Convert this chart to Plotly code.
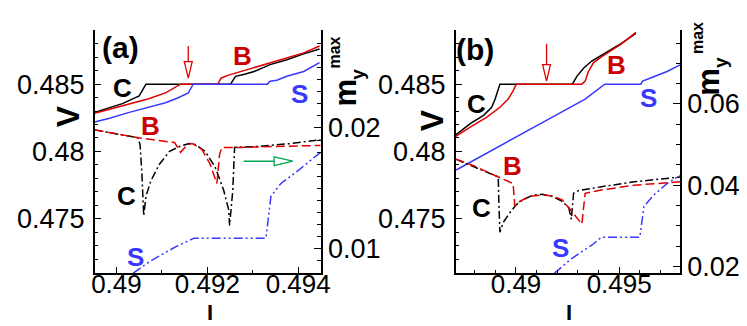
import plotly.graph_objects as go

# ---------------- Panel (a) data ----------------
a_C_V_x = [0.48952, 0.48985, 0.49013, 0.49050, 0.49056, 0.49065, 0.49251, 0.49262, 0.49282, 0.49303, 0.49338, 0.49375, 0.49412, 0.49447]
a_C_V_y = [0.48290, 0.48326, 0.48355, 0.48413, 0.48449, 0.48500, 0.48500, 0.48558, 0.48573, 0.48594, 0.48645, 0.48681, 0.48725, 0.48761]
a_B_V_x = [0.48952, 0.48985, 0.49028, 0.49071, 0.49108, 0.49141, 0.49223, 0.49230, 0.49245, 0.49267, 0.49303, 0.49338, 0.49375, 0.49412, 0.49447]
a_B_V_y = [0.48283, 0.48312, 0.48355, 0.48391, 0.48435, 0.48500, 0.48500, 0.48544, 0.48565, 0.48587, 0.48623, 0.48660, 0.48696, 0.48732, 0.48783]
a_S_V_x = [0.48952, 0.48985, 0.49028, 0.49071, 0.49108, 0.49136, 0.49152, 0.49158, 0.49169, 0.49332, 0.49338, 0.49353, 0.49375, 0.49412, 0.49447]
a_S_V_y = [0.48218, 0.48246, 0.48290, 0.48326, 0.48362, 0.48399, 0.48428, 0.48435, 0.48500, 0.48500, 0.48522, 0.48529, 0.48558, 0.48594, 0.48660]

a_B_m_x = [0.48952, 0.49047, 0.49128, 0.49141, 0.49156, 0.49167, 0.49188, 0.49206, 0.49221, 0.49227, 0.49232, 0.49275, 0.49347, 0.49449]
a_B_m_y = [0.01984, 0.01919, 0.01879, 0.01798, 0.01863, 0.01871, 0.01823, 0.01702, 0.01541, 0.01782, 0.01839, 0.01839, 0.01847, 0.01855]
a_C_m_x = [0.48952, 0.49047, 0.49052, 0.49056, 0.49060, 0.49065, 0.49076, 0.49095, 0.49117, 0.49139, 0.49160, 0.49173, 0.49195, 0.49217, 0.49236, 0.49247, 0.49249, 0.49256, 0.49260, 0.49312, 0.49384, 0.49449]
a_C_m_y = [0.01984, 0.01919, 0.01863, 0.01621, 0.01275, 0.01436, 0.01565, 0.01702, 0.01807, 0.01847, 0.01871, 0.01863, 0.01807, 0.01678, 0.01484, 0.01323, 0.01194, 0.01484, 0.01839, 0.01847, 0.01871, 0.01903]
a_S_m_x = [0.49037, 0.49073, 0.49130, 0.49171, 0.49329, 0.49340, 0.49362, 0.49399, 0.49449]
a_S_m_y = [0.00799, 0.00896, 0.01017, 0.01089, 0.01089, 0.01436, 0.01541, 0.01645, 0.01798]

# ---------------- Panel (b) data ----------------
b_C_V_x = [0.48708, 0.48780, 0.48843, 0.48882, 0.48899, 0.48914, 0.48922, 0.49271, 0.49275, 0.49295, 0.49327, 0.49367, 0.49430, 0.49494, 0.49541, 0.49581]
b_C_V_y = [0.48123, 0.48208, 0.48268, 0.48328, 0.48389, 0.48462, 0.48500, 0.48500, 0.48505, 0.48558, 0.48618, 0.48672, 0.48726, 0.48787, 0.48835, 0.48878]
b_B_V_x = [0.48708, 0.48780, 0.48859, 0.48922, 0.48962, 0.48986, 0.49001, 0.49319, 0.49335, 0.49351, 0.49375, 0.49414, 0.49462, 0.49509, 0.49581]
b_B_V_y = [0.48111, 0.48183, 0.48255, 0.48328, 0.48389, 0.48449, 0.48500, 0.48500, 0.48522, 0.48594, 0.48658, 0.48703, 0.48750, 0.48798, 0.48884]
b_S_V_x = [0.48710, 0.48930, 0.49018, 0.49176, 0.49335, 0.49430, 0.49605, 0.49613, 0.49652, 0.49732, 0.49795]
b_S_V_y = [0.47862, 0.48050, 0.48123, 0.48255, 0.48389, 0.48500, 0.48500, 0.48522, 0.48546, 0.48594, 0.48643]

b_B_m_x = [0.48708, 0.48795, 0.48914, 0.48986, 0.48994, 0.49018, 0.49065, 0.49129, 0.49176, 0.49224, 0.49263, 0.49319, 0.49335, 0.49414, 0.49573, 0.49795]
b_B_m_y = [0.04641, 0.04480, 0.04202, 0.04041, 0.03482, 0.03602, 0.03722, 0.03760, 0.03736, 0.03640, 0.03400, 0.03040, 0.03801, 0.03880, 0.04000, 0.04082]
b_C_m_x = [0.48708, 0.48914, 0.48917, 0.48922, 0.48938, 0.48970, 0.49001, 0.49033, 0.49081, 0.49129, 0.49176, 0.49224, 0.49256, 0.49268, 0.49279, 0.49303, 0.49414, 0.49573, 0.49795]
b_C_m_y = [0.04641, 0.04202, 0.03561, 0.02841, 0.03081, 0.03321, 0.03520, 0.03640, 0.03753, 0.03777, 0.03722, 0.03602, 0.03441, 0.03160, 0.03801, 0.03866, 0.03962, 0.04082, 0.04202]
b_S_m_x = [0.49186, 0.49271, 0.49367, 0.49414, 0.49600, 0.49620, 0.49668, 0.49732, 0.49795]
b_S_m_y = [0.01833, 0.02200, 0.02522, 0.02721, 0.02721, 0.03482, 0.03760, 0.04041, 0.04240]

# ---------------- axes ticks ----------------
a_x_ticks = [0.490, 0.492, 0.494]
a_x_labels = ["0.49", "0.492", "0.494"]
b_x_ticks = [0.490, 0.495]
b_x_labels = ["0.49", "0.495"]
v_ticks = [0.475, 0.480, 0.485]
v_labels = ["0.475", "0.48", "0.485"]
a_m_ticks = [0.01, 0.02]
a_m_labels = ["0.01", "0.02"]
b_m_ticks = [0.02, 0.04, 0.06]
b_m_labels = ["0.02", "0.04", "0.06"]

# arrows (data coordinates)
a_red_arrow = dict(x=0.49158, top=0.48783, base=0.48667, tip=0.48544, hw=0.000087)
b_red_arrow = dict(x=0.49148, top=0.48800, base=0.48645, tip=0.48522, hw=0.00019)
a_green_arrow = dict(y=0.47927, x0=0.49280, base=0.49347, tip=0.49388, hh=0.00033)

RED = "#e00000"
RED_T = "#cc0000"
BLUE = "#3838ff"
BLACK = "#000000"
GREEN = "#00a651"
FONT = "Liberation Sans, Arial, sans-serif"

W, H = 747, 326

fig = go.Figure()


def add(x, y, xa, ya, color, dash="solid"):
    fig.add_trace(go.Scatter(x=x, y=y, mode="lines", xaxis=xa, yaxis=ya,
                             line=dict(color=color, width=1.5, dash=dash),
                             showlegend=False, hoverinfo="skip"))


DASH_B = "9px,4px"
DASH_C = "8px,3px,2px,3px"
DASH_S = "9px,3px,2px,3px,2px,3px"

# panel a
add(a_C_V_x, a_C_V_y, "x", "y", BLACK)
add(a_B_V_x, a_B_V_y, "x", "y", RED)
add(a_S_V_x, a_S_V_y, "x", "y", BLUE)
add(a_C_m_x, a_C_m_y, "x", "y2", BLACK, DASH_C)
add(a_B_m_x, a_B_m_y, "x", "y2", RED, DASH_B)
add(a_S_m_x, a_S_m_y, "x", "y2", BLUE, DASH_S)
# panel b
add(b_C_V_x, b_C_V_y, "x2", "y3", BLACK)
add(b_B_V_x, b_B_V_y, "x2", "y3", RED)
add(b_S_V_x, b_S_V_y, "x2", "y3", BLUE)
add(b_C_m_x, b_C_m_y, "x2", "y4", BLACK, DASH_C)
add(b_B_m_x, b_B_m_y, "x2", "y4", RED, DASH_B)
add(b_S_m_x, b_S_m_y, "x2", "y4", BLUE, DASH_S)

ydom = [(H - 272) / H, (H - 23) / H]
tickfont = dict(family=FONT, size=27, color="black")
xtickfont = dict(family=FONT, size=26, color="black")


def xax(dom, rng, tv, tt, anchor):
    return dict(domain=dom, range=rng, tickmode="array", tickvals=tv, ticktext=tt,
                ticks="inside", ticklen=7, tickwidth=1.2, tickcolor="black",
                showline=True, linecolor="black", linewidth=1.5, showgrid=False,
                zeroline=False, tickfont=xtickfont, anchor=anchor, ticklabelstandoff=-13,
                minor=dict(tickmode="linear", tick0=0.48, dtick=0.001, ticks="inside",
                           ticklen=4, tickcolor="black", showgrid=False))


def yax(rng, tv, tt, anchor, side="left", overlaying=None, mdt=0.001, standoff=3):
    d = dict(domain=ydom, range=rng, tickmode="array", tickvals=tv, ticktext=tt,
             ticks="inside", ticklen=7, tickwidth=1.2, tickcolor="black",
             showline=True, linecolor="black", linewidth=1.5, showgrid=False,
             zeroline=False, tickfont=tickfont, anchor=anchor, side=side,
             ticklabelstandoff=standoff,
             minor=dict(tickmode="linear", tick0=0.0, dtick=mdt, ticks="inside",
                        ticklen=4, tickcolor="black", showgrid=False))
    if overlaying:
        d["overlaying"] = overlaying
    return d


fig.update_layout(
    width=W, height=H, margin=dict(l=0, r=0, t=0, b=0),
    paper_bgcolor="white", plot_bgcolor="rgba(0,0,0,0)",
    xaxis=xax([85 / W, 315 / W], [0.48952, 0.49450], a_x_ticks, a_x_labels, "y"),
    xaxis2=xax([452 / W, 680 / W], [0.48708, 0.49795], b_x_ticks, b_x_labels, "y3"),
    yaxis=yax([0.47094, 0.48899], v_ticks, v_labels, "x"),
    yaxis2=yax([0.00798, 0.02806], a_m_ticks, a_m_labels, "x", "right", "y", standoff=0),
    yaxis3=yax([0.47094, 0.48899], v_ticks, v_labels, "x2"),
    yaxis4=yax([0.0183, 0.0781], b_m_ticks, b_m_labels, "x2", "right", "y3", mdt=0.005, standoff=0),
)


def label(text, px, py, color=BLACK, size=26, angle=0, weight="bold", yanchor="middle"):
    fig.add_annotation(text=text, x=px / W, y=1 - py / H, xref="paper", yref="paper",
                       showarrow=False, textangle=angle, xanchor="center", yanchor=yanchor,
                       borderpad=0,
                       font=dict(family=FONT, size=size, color=color, weight=weight))


# panel labels
label("(a)", 111, 40, size=30)
label("(b)", 472, 43, size=30)
# curve labels a
label("C", 113, 82)
label("B", 235, 49, RED_T)
label("S", 293, 88, BLUE)
label("B", 142, 121, RED_T)
label("C", 117, 193)
label("S", 127, 255, BLUE)
# curve labels b
label("C", 473, 98)
label("B", 615, 58, RED_T)
label("S", 648, 92, BLUE)
label("B", 510, 162, RED_T)
label("C", 478, 205)
label("S", 558, 246, BLUE)
# axis titles
label("V", 58, 111, size=32, angle=-90)
label("V", 428, 115, size=32, angle=-90)
label("I", 202, 326, size=22, yanchor="bottom")
label("I", 567, 326, size=22, yanchor="bottom")
label("m", 340, 87, size=31, angle=-90)
label("y", 352, 68, size=19, angle=-90)
label("max", 329, 46, size=16, angle=-90)
label("m", 709, 76, size=31, angle=-90)
label("y", 721, 56, size=19, angle=-90)
label("max", 697, 31, size=16, angle=-90)


def down_arrow(xa, ya, ar):
    fig.add_shape(type="line", xref=xa, yref=ya, x0=ar["x"], x1=ar["x"], y0=ar["top"], y1=ar["base"],
                  line=dict(color=RED, width=1.3))
    path = (f"M {ar['x'] - ar['hw']},{ar['base']} L {ar['x'] + ar['hw']},{ar['base']} "
            f"L {ar['x']},{ar['tip']} Z")
    fig.add_shape(type="path", xref=xa, yref=ya, path=path, fillcolor="white",
                  line=dict(color=RED, width=1.3))


down_arrow("x", "y", a_red_arrow)
down_arrow("x2", "y3", b_red_arrow)

g = a_green_arrow
fig.add_shape(type="line", xref="x", yref="y", x0=g["x0"], x1=g["base"], y0=g["y"], y1=g["y"],
              line=dict(color=GREEN, width=1.3))
fig.add_shape(type="path", xref="x", yref="y",
              path=f"M {g['base']},{g['y'] - g['hh']} L {g['base']},{g['y'] + g['hh']} L {g['tip']},{g['y']} Z",
              fillcolor="white", line=dict(color=GREEN, width=1.3))

fig.write_html("out.html")
